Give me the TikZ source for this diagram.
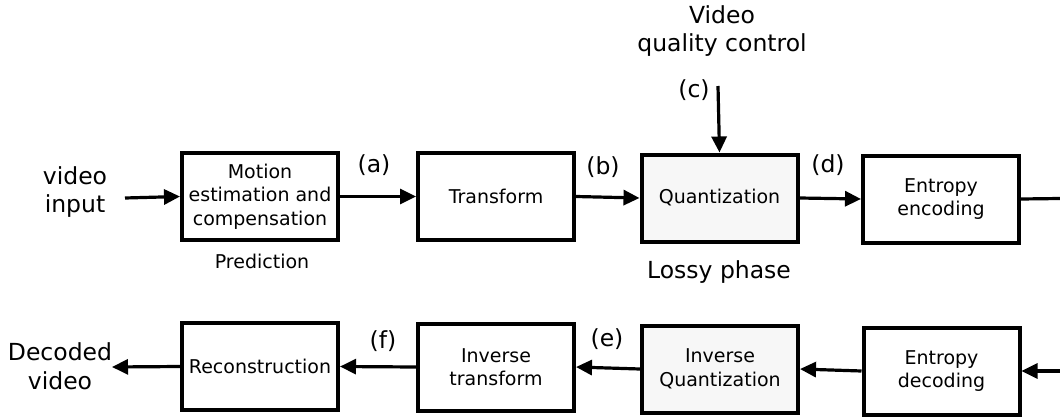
\documentclass[tikz,border=0pt]{standalone}
\usepackage{fontspec}
\setmainfont{DejaVu Sans}
\usetikzlibrary{arrows.meta}
\definecolor{lightfill}{HTML}{F7F7F7}
\begin{document}
\begin{tikzpicture}[x=1pt,y=-1pt,
  blockbox/.style={draw,line width=4pt,minimum width=156pt,minimum height=87pt,
    align=center,font=\fontsize{19}{23.5}\selectfont,inner sep=2pt},
  shadedbox/.style={blockbox,fill=lightfill},
  bigtext/.style={align=center,font=\fontsize{23.5}{28.5}\selectfont,inner sep=0pt},
  smalltext/.style={font=\fontsize{19}{23}\selectfont,inner sep=0pt},
  flow/.style={line width=3.2pt,-{Triangle[length=16pt,width=15pt]}},
  plainline/.style={line width=3.2pt}]
\useasboundingbox (0,0) rectangle (1060,420);

% encoder chain
\node[blockbox]  (mot) at (260,196.5) {Motion\\estimation and\\compensation};
\node[blockbox]  (tr)  at (496,196.5) {Transform};
\node[shadedbox] (qu)  at (719.5,198) {Quantization};
\node[blockbox]  (ee)  at (941,199) {Entropy\\encoding};

% decoder chain
\node[blockbox]  (rec) at (260,366.5) {Reconstruction};
\node[blockbox]  (it)  at (496,367) {Inverse\\transform};
\node[shadedbox] (iq)  at (720,369) {Inverse\\Quantization};
\node[blockbox]  (ed)  at (941.5,371) {Entropy\\decoding};

% texts
\node[bigtext] (vin) at (75,192) {video\\input};
\node[bigtext] (dec) at (60,366) {Decoded\\video};
\node[bigtext] (vqc) at (722,31) {Video\\quality control};
\node[smalltext] (pred) at (262,261) {Prediction};
\node[bigtext] (lossy) at (719,272) {Lossy phase};

\node[bigtext] (la) at (374,165) {(a)};
\node[bigtext] (lb) at (603,167) {(b)};
\node[bigtext] (lc) at (694,90) {(c)};
\node[bigtext] (ld) at (828,165) {(d)};
\node[bigtext] (le) at (607,339) {(e)};
\node[bigtext] (lf) at (383,341) {(f)};

% free ends of connectors
\coordinate (inS)  at (125,198);
\coordinate (qcS)  at (718,86);
\coordinate (encE) at (1060,198.5);
\coordinate (decS) at (1060,371);
\coordinate (outE) at (112,367);

% encoder connectors
\draw[flow] (inS) -- (mot.west);
\draw[flow] (mot.east) -- (tr.west);
\draw[flow] (tr.east) -- (qu.west);
\draw[flow] (qu.east) -- (ee.west);
\draw[flow] (qcS) -- (qu.north);
\draw[plainline] (ee.east) -- (encE);

% decoder connectors
\draw[flow] (decS) -- (ed.east);
\draw[flow] (ed.west) -- (iq.east);
\draw[flow] (iq.west) -- (it.east);
\draw[flow] (it.west) -- (rec.east);
\draw[flow] (rec.west) -- (outE);
\end{tikzpicture}
\end{document}
